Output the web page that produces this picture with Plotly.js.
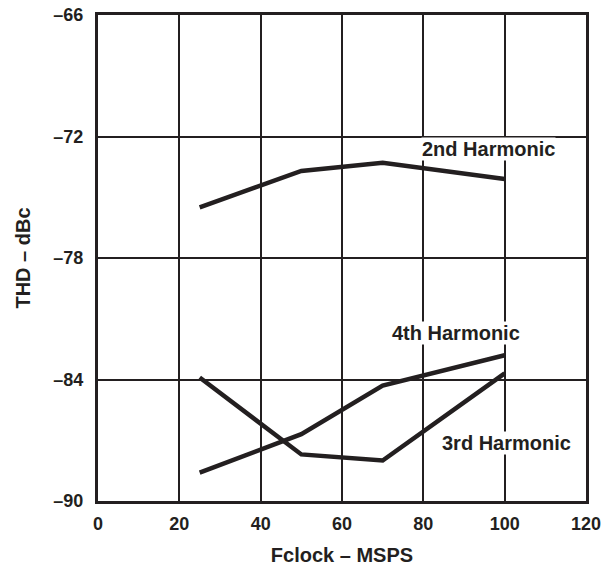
<!DOCTYPE html>
<html><head><meta charset="utf-8">
<script src="https://cdn.plot.ly/plotly-3.0.1.min.js"></script>
<style>html,body{margin:0;padding:0;background:#fff;}</style>
</head><body><div id="chart" style="width:613px;height:569px;"></div>
<script>
const fclock = [25, 50, 70, 100];
const harm2 = [-75.5, -73.7, -73.3, -74.1];
const harm3 = [-83.9, -87.7, -88.0, -83.7];
const harm4 = [-88.6, -86.7, -84.3, -82.8];
const xTickVals = [0, 20, 40, 60, 80, 100, 120];
const xTickText = ['0', '20', '40', '60', '80', '100', '120'];
const yTickVals = [-90, -84, -78, -72, -66];
const yTickText = ['–90', '–84', '–78', '–72', '–66'];
const labels = [
  {text: '2nd Harmonic', x: 96.1, y: -72.6},
  {text: '4th Harmonic', x: 88.0, y: -81.7},
  {text: '3rd Harmonic', x: 100.4, y: -87.15}
];
const lineColor = '#231f20';
const font = {family: 'Liberation Sans, Arial, sans-serif', size: 20, color: lineColor, weight: 'bold'};
const tickFont = Object.assign({}, font, {size: 18});
function tr(y, name) {
  return {x: fclock, y: y, name: name, mode: 'lines', type: 'scatter',
    line: {color: lineColor, width: 4.5}, showlegend: false, hoverinfo: 'skip'};
}
const data = [tr(harm2, '2nd Harmonic'), tr(harm3, '3rd Harmonic'), tr(harm4, '4th Harmonic')];
const layout = {
  width: 613, height: 569,
  margin: {l: 98, r: 27, t: 15, b: 68},
  paper_bgcolor: '#fff', plot_bgcolor: '#fff',
  font: font,
  xaxis: {range: [0, 120], tickvals: xTickVals, ticktext: xTickText,
    showgrid: true, gridcolor: lineColor, gridwidth: 2, zeroline: false,
    showline: true, linecolor: lineColor, linewidth: 3, mirror: true,
    ticks: '', tickfont: tickFont, ticklabelstandoff: 4, fixedrange: true,
    title: {text: 'Fclock – MSPS', font: font, standoff: 16}},
  yaxis: {range: [-90, -66], tickvals: yTickVals, ticktext: yTickText,
    showgrid: true, gridcolor: lineColor, gridwidth: 2, zeroline: false,
    showline: true, linecolor: lineColor, linewidth: 3, mirror: true,
    ticks: '', tickfont: tickFont, ticklabelstandoff: 8, fixedrange: true,
    title: {text: 'THD – dBc', font: font, standoff: 18}},
  annotations: labels.map(l => ({x: l.x, y: l.y, xref: 'x', yref: 'y', text: l.text,
    showarrow: false, font: font, bgcolor: '#fff', borderpad: 0, xanchor: 'center', yanchor: 'middle'}))
};
Plotly.newPlot('chart', data, layout, {staticPlot: true, displayModeBar: false});
</script></body></html>
